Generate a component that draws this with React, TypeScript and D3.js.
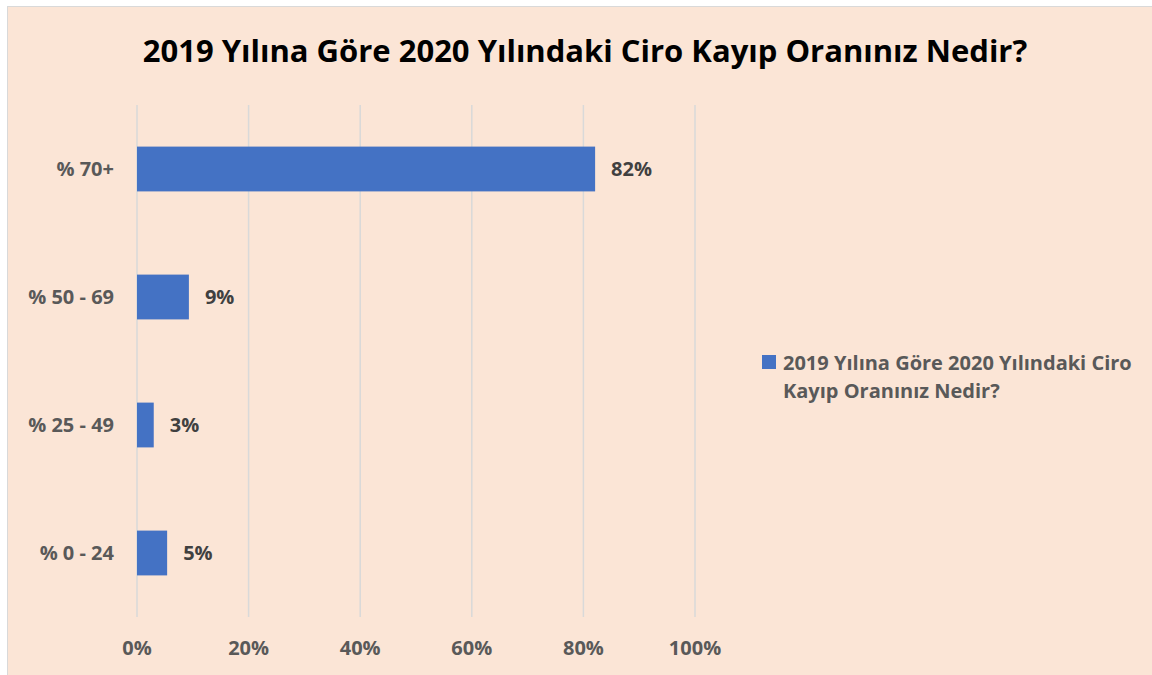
import React, { useRef, useEffect } from "react";
import * as d3 from "d3";

const title = "2019 Yılına Göre 2020 Yılındaki Ciro Kayıp Oranınız Nedir?";
const legendLines = ["2019 Yılına Göre 2020 Yılındaki Ciro", "Kayıp Oranınız Nedir?"];
const categories = ["% 70+", "% 50 - 69", "% 25 - 49", "% 0 - 24"];
const values = [82.1, 9.3, 3.0, 5.4];
const valueLabels = ["82%", "9%", "3%", "5%"];
const xTicks = [0, 20, 40, 60, 80, 100];

function App() {
  const svgRef = useRef<SVGSVGElement>(null);

  useEffect(() => {
    const width = 1152,
      height = 675;
    const margin = { top: 105, left: 137, right: 1152 - 695, bottom: 675 - 617 };
    const font = "'Open Sans', sans-serif";

    const svg = d3.select(svgRef.current);
    svg.selectAll("*").remove();

    svg
      .append("rect")
      .attr("x", 7.5)
      .attr("y", 6.5)
      .attr("width", 1160)
      .attr("height", 680)
      .attr("fill", "#FBE5D6")
      .attr("stroke", "#D9D9D9");

    const x = d3
      .scaleLinear()
      .domain([0, 100])
      .range([margin.left, width - margin.right]);

    const y = d3
      .scaleBand()
      .domain(categories)
      .range([margin.top, height - margin.bottom])
      .paddingInner(0.65)
      .paddingOuter(0.325);

    // title
    svg
      .append("text")
      .attr("x", 585)
      .attr("y", 62)
      .attr("text-anchor", "middle")
      .attr("font-family", font)
      .attr("font-weight", "bold")
      .attr("font-size", 31)
      .attr("fill", "#000")
      .text(title);

    // gridlines
    svg
      .append("g")
      .selectAll("line")
      .data(xTicks)
      .join("line")
      .attr("x1", (d) => x(d))
      .attr("x2", (d) => x(d))
      .attr("y1", margin.top)
      .attr("y2", height - margin.bottom)
      .attr("stroke", "#D9D9D9")
      .attr("stroke-width", 1.5);

    // x tick labels
    svg
      .append("g")
      .selectAll("text")
      .data(xTicks)
      .join("text")
      .attr("x", (d) => x(d))
      .attr("y", 655)
      .attr("text-anchor", "middle")
      .attr("font-family", font)
      .attr("font-weight", "bold")
      .attr("font-size", 20)
      .attr("fill", "#595959")
      .text((d) => d + "%");

    // bars
    svg
      .append("g")
      .selectAll("rect")
      .data(values)
      .join("rect")
      .attr("x", x(0))
      .attr("y", (d, i) => y(categories[i])!)
      .attr("width", (d) => x(d) - x(0))
      .attr("height", y.bandwidth())
      .attr("fill", "#4472C4");

    // category labels
    svg
      .append("g")
      .selectAll("text")
      .data(categories)
      .join("text")
      .attr("x", 114)
      .attr("y", (d) => y(d)! + y.bandwidth() / 2)
      .attr("dy", "0.35em")
      .attr("text-anchor", "end")
      .attr("font-family", font)
      .attr("font-weight", "bold")
      .attr("font-size", 20)
      .attr("fill", "#595959")
      .text((d) => d);

    // value labels
    svg
      .append("g")
      .selectAll("text")
      .data(values)
      .join("text")
      .attr("x", (d) => x(d) + 16)
      .attr("y", (d, i) => y(categories[i])! + y.bandwidth() / 2)
      .attr("dy", "0.35em")
      .attr("font-family", font)
      .attr("font-weight", "bold")
      .attr("font-size", 20)
      .attr("fill", "#404040")
      .text((d, i) => valueLabels[i]);

    // legend
    svg
      .append("rect")
      .attr("x", 762)
      .attr("y", 355)
      .attr("width", 14)
      .attr("height", 14)
      .attr("fill", "#4472C4");

    svg
      .append("text")
      .attr("font-family", font)
      .attr("font-weight", "bold")
      .attr("font-size", 20)
      .attr("fill", "#595959")
      .selectAll("tspan")
      .data(legendLines)
      .join("tspan")
      .attr("x", 783)
      .attr("y", (d, i) => 370 + i * 28)
      .text((d) => d);
  }, []);

  return (
    <div style={{ position: "absolute", left: 0, top: 0 }}>
      <svg ref={svgRef} width={1152} height={675} style={{ display: "block" }}></svg>
    </div>
  );
}

export default App;
